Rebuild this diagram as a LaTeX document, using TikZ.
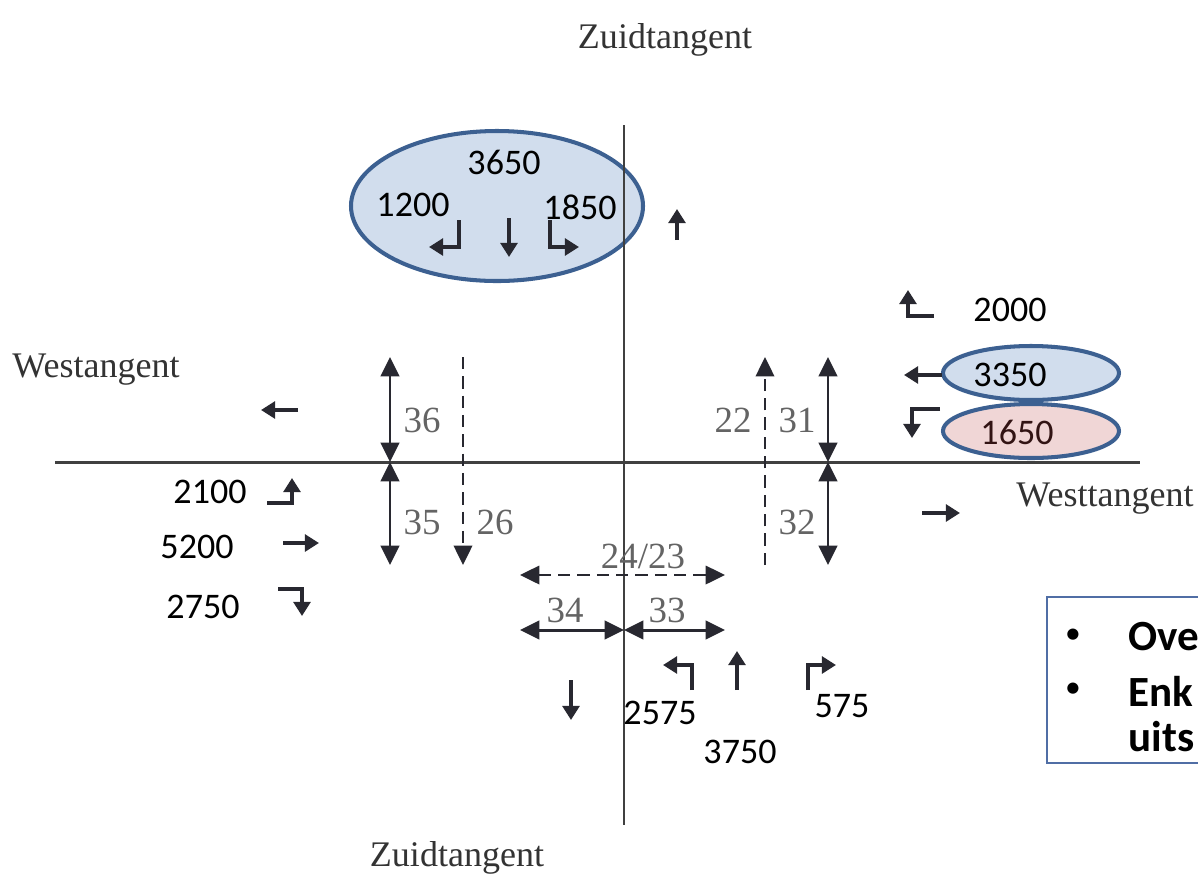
\documentclass[tikz,border=0pt]{standalone}
\usepackage{fontspec}
\setmainfont{Liberation Serif}
\newfontfamily\calib{Carlito}
\usetikzlibrary{arrows.meta}
\definecolor{ovalblue}{RGB}{209,221,237}
\definecolor{ovalpink}{RGB}{240,214,214}
\definecolor{ovaledge}{RGB}{60,96,145}
\definecolor{boxedge}{RGB}{80,110,165}
\definecolor{inkgray}{RGB}{40,40,48}
\definecolor{labgray}{RGB}{100,100,100}
\tikzset{
  road/.style={line width=1.7pt,draw=black!75},
  dbl/.style={{Triangle[length=11pt,width=10.5pt]}-{Triangle[length=11pt,width=10.5pt]},line width=1.7pt,draw=inkgray},
  dsh/.style={dash pattern=on 7pt off 4pt,line width=1.2pt,draw=inkgray},
  tip/.style={-{Triangle[length=11pt,width=10.5pt]}},
  trf/.style={-{Triangle[length=8pt,width=9.5pt]},line width=2.7pt,draw=inkgray},
  oval/.style={line width=2.3pt,draw=ovaledge},
  cnt/.style={font=\calib\fontsize{20.5}{24}\selectfont,inner sep=0pt},
  lane/.style={font=\fontsize{21}{24}\selectfont,text=labgray,inner sep=0pt},
  roadname/.style={font=\fontsize{20.5}{24}\selectfont,text=black!80,inner sep=0pt},
  bul/.style={font=\calib\bfseries\fontsize{24.5}{28}\selectfont,inner sep=0pt,anchor=west},
  dot/.style={font=\calib\fontsize{18}{20}\selectfont,inner sep=0pt},
}
\begin{document}
\begin{tikzpicture}[x=0.02cm,y=-0.02cm]
\useasboundingbox (0,0) rectangle (1198,877);
% highlighted flows
\draw[oval,fill=ovalblue] (497,206) ellipse [x radius=146, y radius=75];
\draw[oval,fill=ovalblue] (1031,373) ellipse [x radius=88, y radius=27];
\draw[oval,fill=ovalpink] (1031,431) ellipse [x radius=88, y radius=27];
%
\coordinate (x) at (624,462);
\draw[road] (624,125) -- (624,825);
\draw[road] (55,462) -- (1140,462);
%
\node (zt) [roadname] at (665,40) {Zuidtangent};
\node (zb) [roadname] at (457,858) {Zuidtangent};
\node (wl) [roadname] at (96,370) {Westangent};
\node (wr) [roadname] at (1105,499) {Westtangent};
% crossings
\draw[dbl] (390,357) -- (390,462);
\draw[dbl] (390,462) -- (390,565);
\draw[dbl] (828,357) -- (828,462);
\draw[dbl] (828,462) -- (828,565);
\draw[dsh,tip] (463,357) -- (463,565);
\draw[dsh,tip] (765,565) -- (765,357);
\draw[dsh,dbl,line width=1.2pt] (520,575) -- (725,575);
\draw[dbl] (520,630) -- (624,630);
\draw[dbl] (624,630) -- (725,630);
%
\node (l36) [lane] at (422,420) {36};
\node (l35) [lane] at (422,522) {35};
\node (l26) [lane] at (495,522) {26};
\node (l22) [lane] at (733,420) {22};
\node (l31) [lane] at (797,420) {31};
\node (l32) [lane] at (797,522) {32};
\node (l24) [lane] at (643,556) {24/23};
\node (l34) [lane] at (565,610) {34};
\node (l33) [lane] at (667,610) {33};
% north approach
\draw[trf] (459,220) -- (459,247) -- (429,247);
\draw[trf] (509,218) -- (509,257);
\draw[trf] (550,220) -- (550,247) -- (579,247);
\node (n3650) [cnt] at (504,162) {3650};
\node (n1200) [cnt] at (413,205) {1200};
\node (n1850) [cnt] at (580,207) {1850};
\draw[trf] (677,240) -- (677,209);
% east approach
\draw[trf] (934,316) -- (908,316) -- (908,290);
\draw[trf] (942,375) -- (904,375);
\draw[trf] (940,409) -- (912,409) -- (912,438);
\node (e2000) [cnt] at (1010,310) {2000};
\node (e3350) [cnt] at (1010,375) {3350};
\node (e1650) [cnt,text={rgb,255:red,50;green,20;blue,20}] at (1017,432) {1650};
\draw[trf] (922,513) -- (960,513);
% west approach
\draw[trf] (298,410) -- (261,410);
\draw[trf] (267,503) -- (292,503) -- (292,478);
\draw[trf] (283,543) -- (319,543);
\draw[trf] (278,589) -- (302,589) -- (302,616);
\node (w2100) [cnt] at (210,492) {2100};
\node (w5200) [cnt] at (197,547) {5200};
\node (w2750) [cnt] at (203,607) {2750};
% south approach
\draw[trf] (571,680) -- (571,720);
\draw[trf] (692,690) -- (692,665) -- (663,665);
\draw[trf] (737,690) -- (737,651);
\draw[trf] (808,690) -- (808,665) -- (836,665);
\node (s2575) [cnt] at (660,713) {2575};
\node (s3750) [cnt] at (740,752) {3750};
\node (s575) [cnt] at (842,706) {575};
% note box
\draw[boxedge,line width=1pt] (1047,597) rectangle (1260,763);
\node (b1) [dot] at (1073,636) {•};
\node (b2) [dot] at (1073,690) {•};
\node (t1) [bul] at (1128,637) {Ove};
\node (t2) [bul] at (1128,691) {Enk};
\node (t3) [bul] at (1128,737) {uits};
\end{tikzpicture}
\end{document}
